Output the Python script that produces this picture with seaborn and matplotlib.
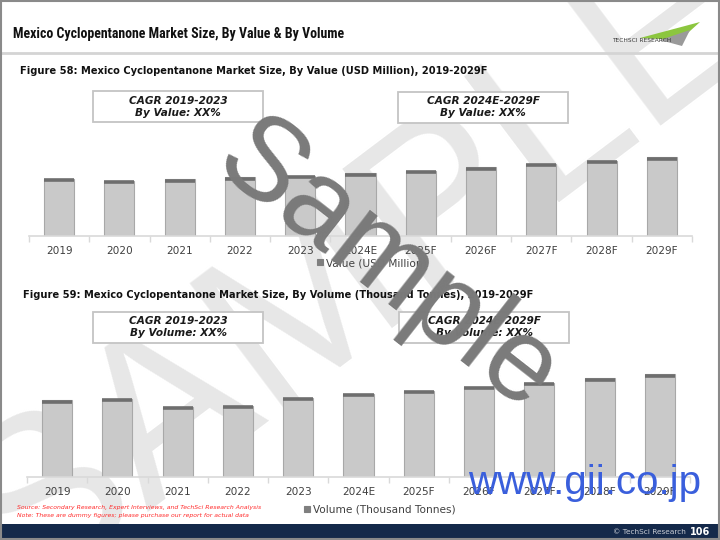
import matplotlib
matplotlib.use("Agg")
import matplotlib.pyplot as plt
from matplotlib import font_manager
from matplotlib.patches import Rectangle, Polygon
import seaborn as sns
import numpy as np

years_value = ['2019', '2020', '2021', '2022', '2023', '2024E', '2025F', '2026F', '2027F', '2028F', '2029F']
value_usd = [57, 55, 56.7, 58.7, 60.3, 62.7, 65.3, 68.7, 72, 75.3, 78.7]

years_volume = ['2019', '2020', '2021', '2022', '2023', '2024E', '2025F', '2026F', '2027F', '2028F', '2029F']
volume_kt = [77, 78.3, 70.3, 71.3, 79.3, 83.3, 86.7, 90.3, 94.3, 99, 103]

main_title = 'Mexico Cyclopentanone Market Size, By Value & By Volume'
fig58_title = 'Figure 58: Mexico Cyclopentanone Market Size, By Value (USD Million), 2019-2029F'
fig59_title = 'Figure 59: Mexico Cyclopentanone Market Size, By Volume (Thousand Tonnes), 2019-2029F'
cagr_value = ['CAGR 2019-2023\nBy Value: XX%', 'CAGR 2024E-2029F\nBy Value: XX%']
cagr_volume = ['CAGR 2019-2023\nBy Volume: XX%', 'CAGR 2024E-2029F\nBy Volume: XX%']
source_lines = ['Source: Secondary Research, Expert Interviews, and TechSci Research Analysis',
                'Note: These are dummy figures; please purchase our report for actual data']

sns.set_theme(style='white')
plt.rcParams['font.family'] = ['DejaVu Sans']

# header font: a narrow face if one is around, else plain Arial-like at a smaller size
installed = {f.name for f in font_manager.fontManager.ttflist}
header_font, header_size = 'Liberation Sans', 9.0
for cand in ['Liberation Sans Narrow', 'DejaVu Sans Condensed', 'Roboto Condensed', 'Open Sans Condensed']:
    if cand in installed:
        header_font, header_size = cand, 10
        break

W, H = 720, 540
fig = plt.figure(figsize=(7.2, 5.4), dpi=100)


def fx(x):
    return x / W


def fy(y):
    return 1 - y / H


# light background watermark
fig.text(0.5, 0.5, 'SAMPLE', rotation=37, fontsize=165, color='#e7e7e7',
         family='Liberation Sans', ha='center', va='center', zorder=-5)

# header
fig.text(fx(13), fy(34), main_title, fontsize=header_size, family=header_font, color='#111111',
         ha='left', va='center', fontweight='bold')
fig.add_artist(plt.Line2D([0, 1], [fy(53), fy(53)], color='#d4d4d4', lw=2))

# logo approximation
fig.add_artist(Polygon([[fx(640), fy(38)], [fx(700), fy(22)], [fx(680), fy(40)]],
                       closed=True, facecolor='#8cc63f', edgecolor='none'))
fig.add_artist(Polygon([[fx(660), fy(40)], [fx(690), fy(30)], [fx(682), fy(46)]],
                       closed=True, facecolor='#9a9a9a', edgecolor='none'))
fig.text(fx(612), fy(41), 'TECHSCI RESEARCH', fontsize=4.2, color='#3a3a3a',
         family='DejaVu Sans', ha='left', va='center')


def draw_panel(ax, cats, vals, label):
    sns.barplot(x=cats, y=vals, color='#c9c9c9', edgecolor='#a8a8a8', linewidth=0.8,
                width=0.5, ax=ax, label=label, saturation=1)
    for p in ax.patches:
        ax.plot([p.get_x(), p.get_x() + p.get_width()],
                [p.get_height() - 1.2, p.get_height() - 1.2],
                color='#6e6e6e', lw=2.6, solid_capstyle='butt')
    ax.set_ylim(0, 150)
    ax.set_xlim(-0.5, len(cats) - 0.5)
    ax.set_yticks([])
    ax.set_facecolor('none')
    for s in ['top', 'right', 'left']:
        ax.spines[s].set_visible(False)
    ax.spines['bottom'].set_color('#d9d9d9')
    ax.spines['bottom'].set_linewidth(1.2)
    ax.set_xticks(np.arange(-0.5, len(cats), 1), minor=True)
    ax.tick_params(axis='x', which='major', length=0, pad=7, labelsize=7.6, labelcolor='#404040')
    ax.tick_params(axis='x', which='minor', length=4, color='#d9d9d9', width=1, bottom=True)
    ax.set_xlabel('')
    ax.set_ylabel('')


ax1 = fig.add_axes([fx(29), fy(236), fx(692) - fx(29), 150 / H])
draw_panel(ax1, years_value, value_usd, 'Value (USD Million)')
leg1 = ax1.legend(loc='center', bbox_to_anchor=(fx(372), fy(263)), bbox_transform=fig.transFigure,
                  frameon=False, fontsize=7.6, handlelength=0.55, handleheight=0.55,
                  handletextpad=0.3, labelcolor='#404040')
leg1.legend_handles[0].set_facecolor('#7f7f7f')
leg1.legend_handles[0].set_edgecolor('#7f7f7f')

ax2 = fig.add_axes([fx(27), fy(477.3), fx(690) - fx(27), 150 / H])
draw_panel(ax2, years_volume, volume_kt, 'Volume (Thousand Tonnes)')
leg2 = ax2.legend(loc='center', bbox_to_anchor=(fx(380), fy(510)), bbox_transform=fig.transFigure,
                  frameon=False, fontsize=7.6, handlelength=0.55, handleheight=0.55,
                  handletextpad=0.3, labelcolor='#404040')
leg2.legend_handles[0].set_facecolor('#7f7f7f')
leg2.legend_handles[0].set_edgecolor('#7f7f7f')

# figure subtitles
fig.text(fx(20), fy(71), fig58_title, fontsize=7.1, fontweight='bold', color='#111111',
         ha='left', va='center')
fig.text(fx(23), fy(295), fig59_title, fontsize=7.1, fontweight='bold', color='#111111',
         ha='left', va='center')

# CAGR boxes
boxes = [(93, 91, cagr_value[0]), (398, 92, cagr_value[1]),
         (93, 312, cagr_volume[0]), (399, 312, cagr_volume[1])]
for bx, by, txt in boxes:
    fig.add_artist(Rectangle((fx(bx), fy(by + 31)), 170 / W, 31 / H, facecolor='white',
                             edgecolor='#c4c4c4', lw=1.3, zorder=2))
    fig.text(fx(bx + 85), fy(by + 15.5), txt, fontsize=7.6, fontweight='bold', style='italic',
             color='#1a1a1a', ha='center', va='center', linespacing=1.25, zorder=3)

# source notes
for i, line in enumerate(source_lines):
    fig.text(fx(17), fy(507 + i * 8), line, fontsize=4.4, style='italic', color='#ff2a2a',
             ha='left', va='center')

# footer band
fig.add_artist(Rectangle((0, 0), 1, 16 / H, facecolor='#14294a', edgecolor='none', zorder=1))
fig.text(fx(686), fy(532), '\u00a9 TechSci Research', fontsize=5.3, color='#c8ccd4',
         ha='right', va='center', zorder=2)
fig.text(fx(710), fy(532), '106', fontsize=7, color='white', fontweight='bold',
         ha='right', va='center', zorder=2)

# outer frame
fig.add_artist(Rectangle((0.001, 0.001), 0.997, 0.997, facecolor='none', edgecolor='#8a8a8a',
                         lw=1.5, zorder=20))

# overlay watermarks
fig.text(fx(386), fy(268), 'Sample', rotation=-38, fontsize=85, color='#7a7a7a',
         family='Liberation Sans', ha='center', va='center', zorder=15)
fig.text(fx(585), fy(483), 'www.gii.co.jp', fontsize=29, color='#3a5fdc',
         family='Liberation Sans', ha='center', va='center', zorder=15)

fig.savefig('out.png', dpi=100)
